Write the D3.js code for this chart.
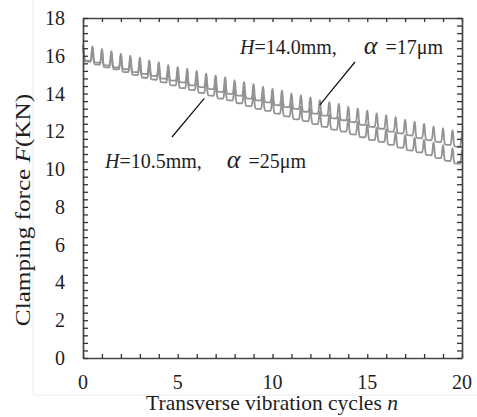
<!DOCTYPE html>
<html><head><meta charset="utf-8">
<script src="https://cdn.jsdelivr.net/npm/d3@7"></script>
<style>body{margin:0;background:#fff}svg{display:block}text{font-family:"Liberation Serif","Times New Roman",serif;fill:#1e1e1e}</style>
</head><body><svg id="c" width="477" height="417"></svg>
<script>
// ---- data ----
const xTicks = [0, 5, 10, 15, 20];
const yTicks = [0, 2, 4, 6, 8, 10, 12, 14, 16, 18];
const cyclePeriod = 0.5;
// H=14.0mm, alpha=17um : peaks at cycle boundaries, troughs within cycles
const upperPeaks = [16.6,16.5,16.35,16.25,16.1,16.0,15.9,15.75,15.65,15.5,15.4,15.3,15.2,15.05,14.95,14.85,14.7,14.6,14.5,14.35,14.25,14.15,14.0,13.9,13.8,13.65,13.55,13.45,13.3,13.2,13.1,12.95,12.85,12.75,12.6,12.5,12.4,12.25,12.15,12.05,11.9];
const upperTroughs = [15.75,15.65,15.5,15.4,15.3,15.15,15.05,14.95,14.8,14.7,14.6,14.45,14.35,14.25,14.1,14.0,13.9,13.75,13.65,13.55,13.4,13.3,13.2,13.05,12.95,12.85,12.7,12.6,12.5,12.35,12.25,12.15,12.0,11.9,11.8,11.65,11.55,11.45,11.3,11.2];
// H=10.5mm, alpha=25um
const lowerPeaks = [16.5,16.35,16.2,16.1,15.95,15.8,15.65,15.55,15.4,15.25,15.1,14.95,14.85,14.7,14.55,14.4,14.3,14.15,14.0,13.85,13.75,13.6,13.45,13.3,13.2,13.05,12.9,12.75,12.65,12.5,12.35,12.2,12.1,11.95,11.8,11.65,11.55,11.4,11.25,11.1,11.0];
const lowerTroughs = [15.7,15.55,15.4,15.3,15.15,15.0,14.85,14.75,14.6,14.45,14.3,14.2,14.05,13.9,13.75,13.65,13.5,13.35,13.2,13.1,12.95,12.8,12.65,12.55,12.4,12.25,12.1,12.0,11.85,11.7,11.55,11.45,11.3,11.15,11.0,10.9,10.75,10.6,10.45,10.3];

// ---- layout ----
const L = 83, R = 462, T = 18, B = 358;
const svg = d3.select("#c");
const x = d3.scaleLinear().domain([0, 20]).range([L, R]);
const y = d3.scaleLinear().domain([0, 18]).range([B, T]);

// faint picture border
svg.append("path").attr("d", `M33,0V395H477`).attr("fill","none").attr("stroke","#ececec").attr("stroke-width",1);

// U-shaped wave points: narrow peaks at cycle boundaries, steep arms, rounded troughs
function wave(peaks, troughs) {
  const pts = [];
  const n = troughs.length;
  for (let k = 0; k < n; k++) {
    const x0 = k * cyclePeriod, x1 = x0 + cyclePeriod;
    const p0 = peaks[k], p1 = peaks[k + 1], t = troughs[k];
    pts.push([x0 + (k === 0 ? 0 : 0.015), p0]);
    pts.push([x0 + 0.06, t + 0.3 * (p0 - t)]);
    pts.push([x0 + 0.11, t]);
    pts.push([x1 - 0.11, t - 0.02]);
    pts.push([x1 - 0.06, t + 0.3 * (p1 - t)]);
    pts.push([x1 - (k === n - 1 ? 0 : 0.015), p1]);
  }
  return pts;
}
const lineGen = d3.line().x(d => x(d[0])).y(d => y(d[1])).curve(d3.curveMonotoneX);
[[lowerPeaks, lowerTroughs], [upperPeaks, upperTroughs]].forEach(([p, t]) => {
  svg.append("path").attr("d", lineGen(wave(p, t)))
    .attr("fill", "none").attr("stroke", "#939393").attr("stroke-width", 1.8);
});

// axes
const frameColor = "#474747";
const minorX = d3.range(0, 20.001, 1);
const minorY = d3.range(0, 18.001, 0.4);
const gB = svg.append("g").attr("transform", `translate(0,${B})`).call(d3.axisBottom(x).tickValues(minorX).tickSize(-4).tickFormat("").tickSizeOuter(0));
const gT = svg.append("g").attr("transform", `translate(0,${T})`).call(d3.axisTop(x).tickValues(minorX).tickSize(-4).tickFormat("").tickSizeOuter(0));
const gL = svg.append("g").attr("transform", `translate(${L},0)`).call(d3.axisLeft(y).tickValues(minorY).tickSize(-5).tickFormat("").tickSizeOuter(0));
const gR = svg.append("g").attr("transform", `translate(${R},0)`).call(d3.axisRight(y).tickValues(minorY).tickSize(-5).tickFormat("").tickSizeOuter(0));
[gB, gT, gL, gR].forEach(g => {
  g.selectAll("path.domain").attr("stroke", frameColor).attr("stroke-width", 1.7);
  g.selectAll(".tick line").attr("stroke", "#333").attr("stroke-width", 1.3);
});

// tick labels
svg.append("g").selectAll("text").data(xTicks).join("text")
  .attr("x", d => x(d)).attr("y", 389).attr("text-anchor", "middle")
  .attr("font-size", 20).text(d => d);
svg.append("g").selectAll("text").data(yTicks).join("text")
  .attr("x", 65).attr("y", d => y(d) + 7).attr("text-anchor", "end")
  .attr("font-size", 20).text(d => d);

// axis titles
const xt = svg.append("text").attr("x", 272).attr("y", 410).attr("text-anchor", "middle").attr("font-size", 21.5);
xt.append("tspan").text("Transverse vibration cycles ");
xt.append("tspan").attr("font-style", "italic").text("n");
const yt = svg.append("text").attr("transform", "translate(30,210) rotate(-90) scale(1.2,1)").attr("text-anchor", "middle").attr("font-size", 21);
yt.append("tspan").text("Clamping force ");
yt.append("tspan").attr("font-style", "italic").text("F");
yt.append("tspan").text("(KN)");

// annotations
function label(x0, yb, h, a, gap) {
  const t = svg.append("text").attr("x", x0).attr("y", yb).attr("font-size", 20);
  t.append("tspan").attr("font-style", "italic").text("H");
  t.append("tspan").text("=" + h + "mm,");
  t.append("tspan").attr("dx", gap).attr("font-style", "italic").attr("font-size", 26).text("α");
  t.append("tspan").attr("dx", 8).text("=" + a + "μm");
}
label(240, 54, "14.0", "17", 27);
label(105, 168, "10.5", "25", 25);
svg.append("line").attr("x1", 355).attr("y1", 62).attr("x2", x(12.5)).attr("y2", y(13.4)).attr("stroke", "#111").attr("stroke-width", 1.2);
svg.append("line").attr("x1", 172).attr("y1", 137).attr("x2", x(6.4)).attr("y2", y(13.75)).attr("stroke", "#111").attr("stroke-width", 1.2);
</script></body></html>
